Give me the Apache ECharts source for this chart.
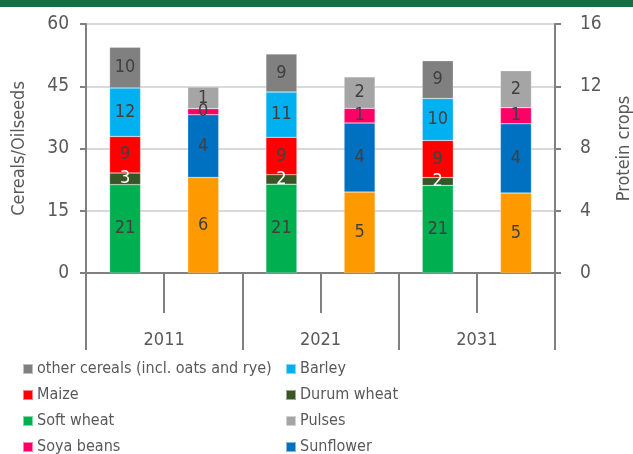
<!DOCTYPE html>
<html>
<head>
<meta charset="utf-8">
<script src="https://cdn.jsdelivr.net/npm/echarts@6/dist/echarts.min.js"></script>
<style>
  html, body { margin: 0; padding: 0; background: #fff; }
  #container { width: 633px; height: 454px; }
</style>
</head>
<body>
<div id="container"></div>
<script>
// 数据
var categories = ['2011 c', '2011 p', '2021 c', '2021 p', '2031 c', '2031 p'];
var years = ['2011', '2021', '2031'];
// cereals (left axis)
var softWheat = [21.3, '-', 21.4, '-', 21.1, '-'];
var durumWheat = [2.8, '-', 2.3, '-', 1.9, '-'];
var maize = [8.8, '-', 9.0, '-', 8.95, '-'];
var barley = [11.7, '-', 10.9, '-', 10.1, '-'];
var otherCereals = [9.8, '-', 9.2, '-', 9.1, '-'];
// protein crops (right axis)
var rapeseed = ['-', 6.14, '-', 5.2, '-', 5.14];
var sunflower = ['-', 4.03, '-', 4.44, '-', 4.45];
var soyaBeans = ['-', 0.39, '-', 0.94, '-', 1.03];
var pulses = ['-', 1.39, '-', 2.02, '-', 2.38];
// 图例两列
var legendLeft = ['other cereals (incl. oats and rye)', 'Maize', 'Soft wheat', 'Soya beans'];
var legendRight = ['Barley', 'Durum wheat', 'Pulses', 'Sunflower'];

var FONT = '"Liberation Sans Narrow", "DejaVu Sans Condensed", sans-serif';
var TXT = '#595959';

var myChart = echarts.init(document.getElementById('container'));

function seg(name, data, color, axis, stack, labelColor) {
    return {
        name: name,
        type: 'bar',
        stack: stack,
        yAxisIndex: axis,
        barWidth: 31,
        barGap: '-100%',
        data: data,
        itemStyle: {color: color, borderColor: 'rgba(255,255,255,0.5)', borderWidth: 0.5},
        label: {
            show: true,
            position: 'inside',
            color: labelColor || '#404040',
            fontFamily: FONT,
            fontSize: 18,
            formatter: function (p) { return Math.round(p.value); }
        }
    };
}

function legendItem(name, left, row) {
    return {
        left: left,
        top: 359 + row * 26,
        padding: 0,
        itemWidth: 10,
        itemHeight: 10,
        icon: 'rect',
        textStyle: {color: TXT, fontFamily: FONT, fontSize: 16, lineHeight: 20, padding: [0, 0, 0, -1]},
        data: [name]
    };
}

var legends = [];
legendLeft.forEach(function (n, i) { legends.push(legendItem(n, 22, i)); });
legendRight.forEach(function (n, i) { legends.push(legendItem(n, 285, i)); });

var option = {
    animation: false,
    graphic: [{
        type: 'rect',
        shape: {x: 0, y: 0, width: 633, height: 7},
        style: {fill: '#137042'}
    }],
    grid: {left: 86, right: 78, top: 24, bottom: 181, outerBoundsMode: 'none'},
    legend: legends,
    xAxis: [{
        type: 'category',
        data: categories,
        axisLine: {lineStyle: {color: '#808080', width: 2}},
        axisTick: {show: true, length: 40, interval: 0, lineStyle: {color: '#808080', width: 2}},
        axisLabel: {show: false}
    }, {
        type: 'category',
        data: years,
        position: 'bottom',
        axisLine: {show: false},
        axisTick: {show: true, length: 77, interval: 0, lineStyle: {color: '#808080', width: 2}},
        axisLabel: {margin: 58, color: TXT, fontFamily: FONT, fontSize: 18}
    }],
    yAxis: [{
        type: 'value',
        min: 0,
        max: 60,
        interval: 15,
        name: 'Cereals/Oilseeds',
        nameLocation: 'middle',
        nameGap: 58,
        nameTextStyle: {color: TXT, fontFamily: FONT, fontSize: 18},
        axisLine: {show: true, lineStyle: {color: '#808080', width: 2}},
        axisTick: {show: true, length: 6, lineStyle: {color: '#808080', width: 2}},
        axisLabel: {margin: 17, color: TXT, fontFamily: FONT, fontSize: 19},
        splitLine: {lineStyle: {color: '#d9d9d9', width: 2}}
    }, {
        type: 'value',
        min: 0,
        max: 16,
        interval: 4,
        position: 'right',
        name: 'Protein crops',
        nameLocation: 'middle',
        nameGap: 60,
        nameTextStyle: {color: TXT, fontFamily: FONT, fontSize: 18},
        axisLine: {show: true, lineStyle: {color: '#808080', width: 2}},
        axisTick: {show: true, length: 6, lineStyle: {color: '#808080', width: 2}},
        axisLabel: {margin: 25, color: TXT, fontFamily: FONT, fontSize: 19},
        splitLine: {show: false}
    }],
    series: [
        seg('Soft wheat', softWheat, '#00b050', 0, 'cereals'),
        seg('Durum wheat', durumWheat, '#375623', 0, 'cereals', '#ffffff'),
        seg('Maize', maize, '#ff0000', 0, 'cereals'),
        seg('Barley', barley, '#00b0f0', 0, 'cereals'),
        seg('other cereals (incl. oats and rye)', otherCereals, '#808080', 0, 'cereals'),
        seg('Rapeseed', rapeseed, '#ff9900', 1, 'protein'),
        seg('Sunflower', sunflower, '#0070c0', 1, 'protein'),
        seg('Soya beans', soyaBeans, '#ff0066', 1, 'protein'),
        seg('Pulses', pulses, '#a5a5a5', 1, 'protein')
    ]
};
myChart.setOption(option);
</script>
</body>
</html>
